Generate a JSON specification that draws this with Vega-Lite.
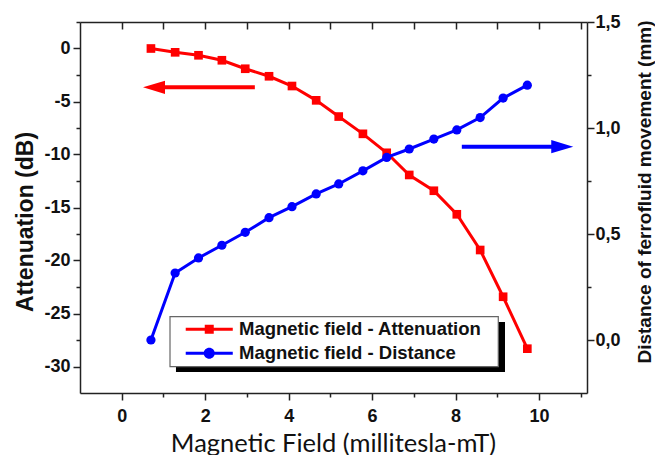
{
  "$schema": "https://vega.github.io/schema/vega-lite/v6.json",
  "width": 507,
  "height": 371,
  "autosize": {"type": "none"},
  "padding": {"left": 80, "top": 22, "right": 68, "bottom": 62},
  "background": "white",
  "config": {
    "view": {"stroke": null},
    "axis": {
      "labelFont": "Liberation Sans", "labelFontWeight": "bold", "labelFontSize": 18, "labelColor": "#111",
      "domainColor": "#222", "domainWidth": 1.5, "tickColor": "#222", "tickWidth": 1.5, "grid": false,
      "titleFont": "Liberation Sans", "titleFontWeight": "bold", "titleColor": "#111"
    }
  },
  "datasets": {
    "main": [
      {"B": 0.70, "att": 0, "dist": 0},
      {"B": 1.28, "att": -0.36, "dist": 0.316},
      {"B": 1.84, "att": -0.64, "dist": 0.387},
      {"B": 2.40, "att": -1.11, "dist": 0.447},
      {"B": 2.96, "att": -1.91, "dist": 0.508},
      {"B": 3.53, "att": -2.62, "dist": 0.577},
      {"B": 4.08, "att": -3.54, "dist": 0.629},
      {"B": 4.66, "att": -4.89, "dist": 0.689},
      {"B": 5.20, "att": -6.42, "dist": 0.736},
      {"B": 5.78, "att": -8.05, "dist": 0.798},
      {"B": 6.35, "att": -9.84, "dist": 0.861},
      {"B": 6.89, "att": -11.93, "dist": 0.901},
      {"B": 7.48, "att": -13.42, "dist": 0.948},
      {"B": 8.03, "att": -15.64, "dist": 0.991},
      {"B": 8.59, "att": -19.01, "dist": 1.049},
      {"B": 9.14, "att": -23.42, "dist": 1.141},
      {"B": 9.72, "att": -28.32, "dist": 1.202}
    ],
    "arrows": [
      {"dir": "left", "from": 3.19, "to": 0.8, "tip": 0.51, "level": -3.66},
      {"dir": "right", "from": 8.15, "to": 10.55, "tip": 10.82, "level": 0.912}
    ],
    "frame": [
      {"kind": "shadow", "x1": 1.30, "x2": 9.185, "y1": -25.80, "y2": -30.52},
      {"kind": "box", "x1": 1.157, "x2": 9.024, "y1": -25.30, "y2": -30.02}
    ]
  },
  "layer": [
    {
      "data": {"name": "frame"},
      "transform": [{"filter": "datum.kind === 'shadow'"}],
      "mark": {"type": "rect", "color": "#000000"},
      "encoding": {
        "x": {"field": "x1", "type": "quantitative", "scale": {"domain": [-1, 11.15], "nice": false, "zero": false},
              "axis": {"orient": "bottom", "values": [1, 3, 5, 7, 9, 11], "labels": false, "tickSize": 4, "domain": false, "title": null}},
        "x2": {"field": "x2"},
        "y": {"field": "y1", "type": "quantitative", "scale": {"domain": [-32.5, 2.5], "nice": false, "zero": false},
              "axis": {"orient": "left", "values": [-27.5, -22.5, -17.5, -12.5, -7.5, -2.5, 2.5], "labels": false, "tickSize": 4, "domain": false, "title": null}},
        "y2": {"field": "y2"}
      }
    },
    {
      "data": {"name": "frame"},
      "transform": [{"filter": "datum.kind === 'box'"}],
      "mark": {"type": "rect", "fill": "#ffffff", "stroke": "#666666", "strokeWidth": 1.2},
      "encoding": {
        "x": {"field": "x1", "type": "quantitative", "scale": {"domain": [-1, 11.15], "nice": false, "zero": false}, "axis": null},
        "x2": {"field": "x2"},
        "y": {"field": "y1", "type": "quantitative", "scale": {"domain": [-32.5, 2.5], "nice": false, "zero": false}, "axis": null},
        "y2": {"field": "y2"}
      }
    },
    {
      "data": {"name": "main"},
      "mark": {"type": "line", "strokeWidth": 3, "point": {"shape": "square", "size": 75, "filled": true, "opacity": 1}},
      "encoding": {
        "x": {"field": "B", "type": "quantitative", "scale": {"domain": [-1, 11.15], "nice": false, "zero": false},
              "axis": {"orient": "bottom", "values": [0, 2, 4, 6, 8, 10], "labelExpr": "datum.value + ''", "tickSize": 7, "labelPadding": 7,
                       "title": "Magnetic Field (millitesla-mT)", "titleFont": "Lato", "titleFontWeight": "normal", "titleFontSize": 25.5,
                       "titleX": 253, "titleY": 58, "titleBaseline": "alphabetic", "titleAlign": "center"}},
        "y": {"field": "att", "type": "quantitative", "scale": {"domain": [-32.5, 2.5], "nice": false, "zero": false},
              "axis": {"orient": "left", "values": [-30, -25, -20, -15, -10, -5, 0], "labelExpr": "datum.value + ''", "tickSize": 7, "labelPadding": 3,
                       "title": "Attenuation (dB)", "titleFontSize": 23, "titleAngle": -90, "titleX": -48, "titleY": 199.5,
                       "titleBaseline": "alphabetic", "titleAlign": "center"}},
        "color": {"datum": "Magnetic field - Attenuation", "type": "nominal",
                  "scale": {"domain": ["Magnetic field - Attenuation", "Magnetic field - Distance"], "range": ["#ff0000", "#0000ff"]},
                  "legend": {"orient": "none", "legendX": 120, "legendY": 298, "title": null, "padding": 0,
                             "labelFont": "Liberation Sans", "labelFontWeight": "bold", "labelFontSize": 18.5, "labelColor": "#111",
                             "labelLimit": 400, "symbolSize": 144, "symbolStrokeWidth": 0, "labelOffset": 20.5, "rowPadding": 5,
                             "encode": {"symbols": {"update": {
                               "shape": {"signal": "datum.value === 'Magnetic field - Attenuation' ? 'M-3.92,-0.25H3.92V0.25H-3.92Z M-0.75,-0.75H0.75V0.75H-0.75Z' : 'M-3.92,-0.25H3.92V0.25H-3.92Z M-0.92,0A0.92,0.92,0,1,1,0.92,0A0.92,0.92,0,1,1,-0.92,0Z'"},
                               "fill": {"signal": "datum.value === 'Magnetic field - Attenuation' ? '#ff0000' : '#0000ff'"},
                               "stroke": {"value": "transparent"},
                               "strokeWidth": {"value": 0},
                               "opacity": {"value": 1}
                             }}}}}
      }
    },
    {
      "data": {"name": "main"},
      "mark": {"type": "line", "strokeWidth": 3, "point": {"shape": "circle", "size": 85, "filled": true, "opacity": 1}},
      "encoding": {
        "x": {"field": "B", "type": "quantitative", "scale": {"domain": [-1, 11.15], "nice": false, "zero": false},
              "axis": {"orient": "top", "values": [0, 1, 2, 3, 4, 5, 6, 7, 8, 9, 10, 11], "labels": false, "tickSize": -7, "title": null}},
        "y": {"field": "dist", "type": "quantitative", "scale": {"domain": [-0.25, 1.5], "nice": false, "zero": false},
              "axis": {"orient": "right", "values": [0, 0.5, 1, 1.5], "labelExpr": "replace(format(datum.value, '.1f'), '.', ',')", "tickSize": 7, "labelPadding": 1,
                       "title": "Distance of ferrofluid movement (mm)", "titleFontSize": 19, "titleAngle": -90, "titleX": 63, "titleY": 169.5,
                       "titleBaseline": "alphabetic", "titleAlign": "center"}},
        "color": {"datum": "Magnetic field - Distance", "type": "nominal",
                  "scale": {"domain": ["Magnetic field - Attenuation", "Magnetic field - Distance"], "range": ["#ff0000", "#0000ff"]}}
      }
    },
    {
      "data": {"name": "arrows"},
      "transform": [{"filter": "datum.dir === 'left'"}],
      "mark": {"type": "rule", "color": "#ff0000", "strokeWidth": 4},
      "encoding": {
        "x": {"field": "from", "type": "quantitative", "scale": {"domain": [-1, 11.15], "nice": false, "zero": false}, "axis": null},
        "x2": {"field": "to"},
        "y": {"field": "level", "type": "quantitative", "scale": {"domain": [-32.5, 2.5], "nice": false, "zero": false}, "axis": null}
      }
    },
    {
      "data": {"name": "arrows"},
      "transform": [{"filter": "datum.dir === 'left'"}],
      "mark": {"type": "point", "shape": "M0,0L2,-0.6L2,0.6Z", "filled": true, "color": "#ff0000", "size": 484, "opacity": 1, "strokeWidth": 0},
      "encoding": {
        "x": {"field": "tip", "type": "quantitative", "scale": {"domain": [-1, 11.15], "nice": false, "zero": false}, "axis": null},
        "y": {"field": "level", "type": "quantitative", "scale": {"domain": [-32.5, 2.5], "nice": false, "zero": false}, "axis": null}
      }
    },
    {
      "data": {"name": "arrows"},
      "transform": [{"filter": "datum.dir === 'right'"}],
      "mark": {"type": "rule", "color": "#0000ff", "strokeWidth": 4},
      "encoding": {
        "x": {"field": "from", "type": "quantitative", "scale": {"domain": [-1, 11.15], "nice": false, "zero": false}, "axis": null},
        "x2": {"field": "to"},
        "y": {"field": "level", "type": "quantitative", "scale": {"domain": [-0.25, 1.5], "nice": false, "zero": false},
              "axis": {"orient": "right", "values": [0.25, 0.75, 1.25], "labels": false, "tickSize": 4, "domain": false, "title": null}}
      }
    },
    {
      "data": {"name": "arrows"},
      "transform": [{"filter": "datum.dir === 'right'"}],
      "mark": {"type": "point", "shape": "M0,0L-2,-0.6L-2,0.6Z", "filled": true, "color": "#0000ff", "size": 484, "opacity": 1, "strokeWidth": 0},
      "encoding": {
        "x": {"field": "tip", "type": "quantitative", "scale": {"domain": [-1, 11.15], "nice": false, "zero": false}, "axis": null},
        "y": {"field": "level", "type": "quantitative", "scale": {"domain": [-0.25, 1.5], "nice": false, "zero": false}, "axis": null}
      }
    }
  ],
  "resolve": {"scale": {"y": "independent"}, "axis": {"x": "independent", "y": "independent"}}
}
